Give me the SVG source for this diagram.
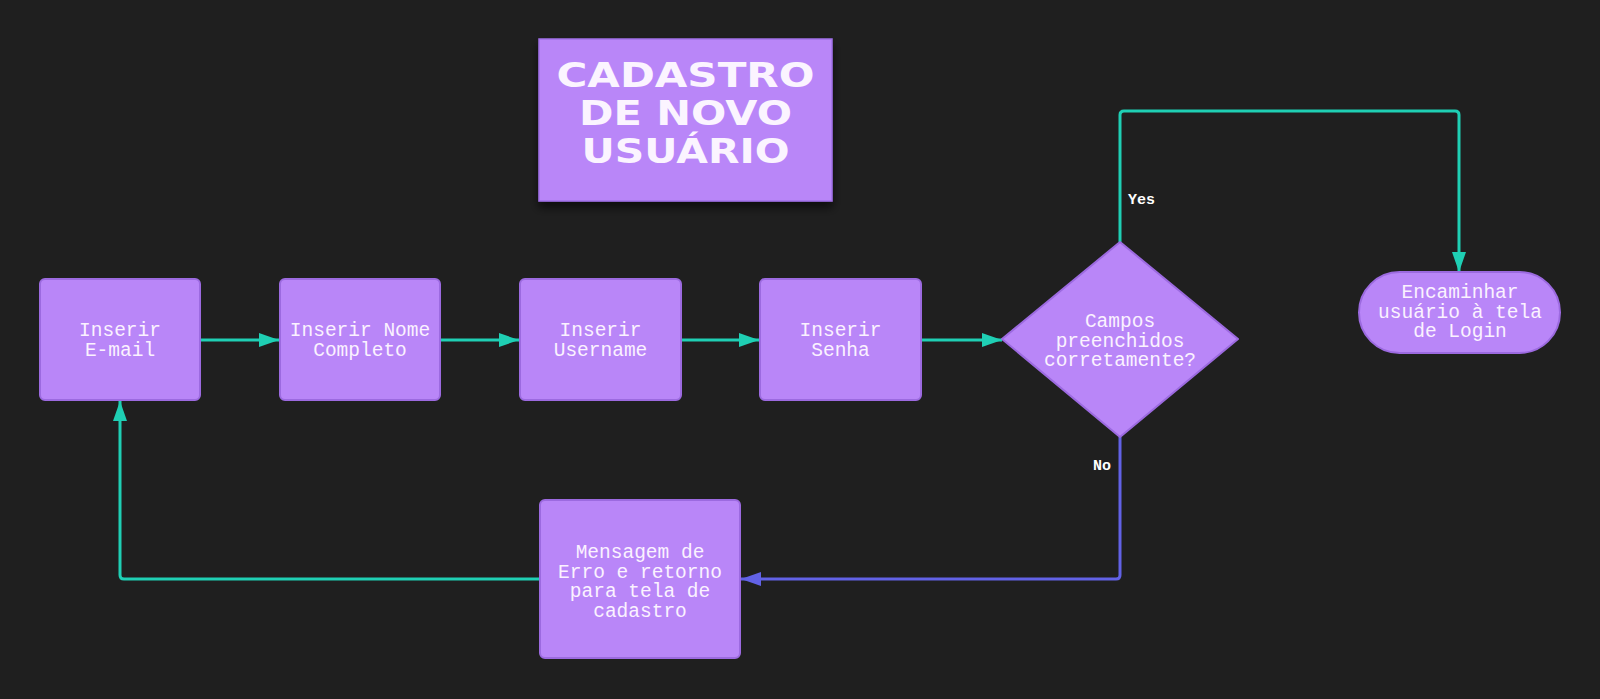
<svg xmlns="http://www.w3.org/2000/svg" width="1600" height="699" viewBox="0 0 1600 699">
<style>
.node{fill:#b986f8;stroke:#9c6ae0;stroke-width:2}
.lbl{font-family:"Liberation Mono",monospace;font-size:19.5px;fill:#fbf2ff;text-anchor:middle}
.title{font-family:"DejaVu Sans",sans-serif;font-weight:bold;font-size:34px;fill:#fbf4ff;text-anchor:middle}
.edge{fill:none;stroke:#1fcfb4;stroke-width:3;stroke-linejoin:round}
.edgeNo{fill:none;stroke:#6262e6;stroke-width:3;stroke-linejoin:round}
.elbl{font-family:"Liberation Mono",monospace;font-weight:bold;font-size:15px;fill:#ffffff}
</style>
<defs>
<marker id="arT" viewBox="0 0 20 14" refX="20" refY="7" markerWidth="20" markerHeight="14" markerUnits="userSpaceOnUse" orient="auto">
<path d="M0,0 L20,7 L0,14 Z" fill="#1fcfb4"/>
</marker>
<marker id="arB" viewBox="0 0 20 14" refX="20" refY="7" markerWidth="20" markerHeight="14" markerUnits="userSpaceOnUse" orient="auto">
<path d="M0,0 L20,7 L0,14 Z" fill="#6262e6"/>
</marker>
<filter id="sh" x="-10%" y="-10%" width="120%" height="130%">
<feDropShadow dx="0" dy="6" stdDeviation="5" flood-color="#000" flood-opacity="0.6"/>
</filter>
</defs>
<rect width="1600" height="699" fill="#1f1f1f"/>

<g id="connectors">
<path class="edge" d="M200,340 L279,340" marker-end="url(#arT)"/>
<path class="edge" d="M440,340 L519,340" marker-end="url(#arT)"/>
<path class="edge" d="M681,340 L759,340" marker-end="url(#arT)"/>
<path class="edge" d="M921,340 L1002,340" marker-end="url(#arT)"/>
<path class="edge" d="M1120,242 L1120,115 Q1120,111 1124,111 L1455,111 Q1459,111 1459,115 L1459,272" marker-end="url(#arT)"/>
<path class="edgeNo" d="M1120,437 L1120,575 Q1120,579 1116,579 L741,579" marker-end="url(#arB)"/>
<path class="edge" d="M540,579 L124,579 Q120,579 120,575 L120,401" marker-end="url(#arT)"/>
<text class="elbl" x="1128" y="204">Yes</text>
<text class="elbl" x="1093" y="470">No</text>
</g>

<g id="title">
<rect x="539" y="39" width="293" height="162" fill="#b986f8" stroke="#a070e8" stroke-width="1.5" filter="url(#sh)"/>
<text class="title" x="685.5" y="87" textLength="258" lengthAdjust="spacingAndGlyphs">CADASTRO</text>
<text class="title" x="685.5" y="125" textLength="213" lengthAdjust="spacingAndGlyphs">DE NOVO</text>
<text class="title" x="685.5" y="163" textLength="208" lengthAdjust="spacingAndGlyphs">USUÁRIO</text>
</g>

<g id="email">
<rect class="node" x="40" y="279" width="160" height="121" rx="5"/>
<text class="lbl" x="120" y="336">Inserir</text>
<text class="lbl" x="120" y="356">E-mail</text>
</g>

<g id="nome">
<rect class="node" x="280" y="279" width="160" height="121" rx="5"/>
<text class="lbl" x="360" y="336">Inserir Nome</text>
<text class="lbl" x="360" y="356">Completo</text>
</g>

<g id="username">
<rect class="node" x="520" y="279" width="161" height="121" rx="5"/>
<text class="lbl" x="600.5" y="336">Inserir</text>
<text class="lbl" x="600.5" y="356">Username</text>
</g>

<g id="senha">
<rect class="node" x="760" y="279" width="161" height="121" rx="5"/>
<text class="lbl" x="840.5" y="336">Inserir</text>
<text class="lbl" x="840.5" y="356">Senha</text>
</g>

<g id="decisao">
<path class="node" d="M1120,242 L1238,339 L1120,437 L1002,339 Z" stroke-linejoin="round"/>
<text class="lbl" x="1120" y="327">Campos</text>
<text class="lbl" x="1120" y="347">preenchidos</text>
<text class="lbl" x="1120" y="366">corretamente?</text>
</g>

<g id="login">
<rect class="node" x="1359" y="272" width="201" height="81" rx="40.5"/>
<text class="lbl" x="1460" y="298">Encaminhar</text>
<text class="lbl" x="1460" y="318">usuário à tela</text>
<text class="lbl" x="1460" y="337">de Login</text>
</g>

<g id="erro">
<rect class="node" x="540" y="500" width="200" height="158" rx="5"/>
<text class="lbl" x="640" y="558">Mensagem de</text>
<text class="lbl" x="640" y="578">Erro e retorno</text>
<text class="lbl" x="640" y="597">para tela de</text>
<text class="lbl" x="640" y="617">cadastro</text>
</g>
</svg>
